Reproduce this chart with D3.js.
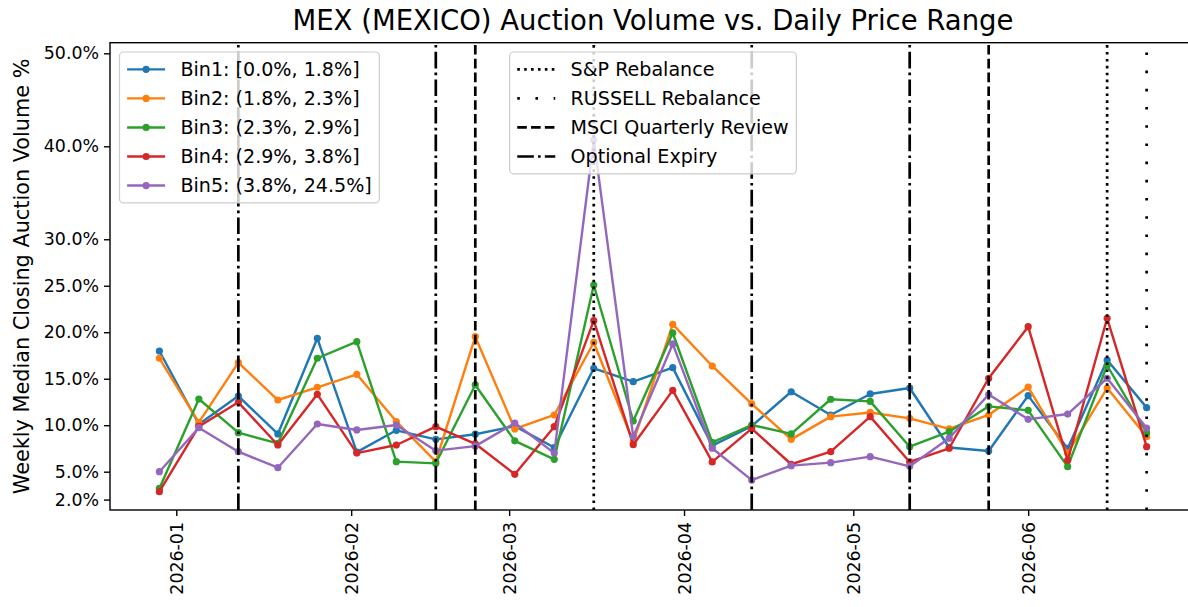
<!DOCTYPE html>
<html><head><meta charset="utf-8">
<script src="https://cdn.jsdelivr.net/npm/d3@7"></script>
<style>body{margin:0;background:#fff;} text{font-family:"DejaVu Sans",sans-serif;fill:#000;}</style>
</head><body><svg id="chart" width="1188" height="607"></svg>
<script>
const weeks = ["2025-12-29","2026-01-05","2026-01-12","2026-01-19","2026-01-26","2026-02-02","2026-02-09","2026-02-16","2026-02-23","2026-03-02","2026-03-09","2026-03-16","2026-03-23","2026-03-30","2026-04-06","2026-04-13","2026-04-20","2026-04-27","2026-05-04","2026-05-11","2026-05-18","2026-05-25","2026-06-01","2026-06-08","2026-06-15","2026-06-22"];
const binNames = ["Bin1: [0.0%, 1.8%]","Bin2: (1.8%, 2.3%]","Bin3: (2.3%, 2.9%]","Bin4: (2.9%, 3.8%]","Bin5: (3.8%, 24.5%]"];
const bin1 = [17.98,10.1,13.14,9.06,19.35,7.1,9.45,8.48,9.03,9.9,7.6,16.12,14.68,16.19,7.8,9.9,13.6,11.1,13.36,14.0,7.6,7.23,13.18,7.5,17.01,11.89];
const bin2 = [17.2,10.3,16.73,12.71,14.08,15.47,10.4,6.08,19.52,9.6,11.1,18.9,8.2,20.85,16.37,12.3,8.48,10.92,11.37,10.74,9.6,11.1,14.1,7.0,14.0,8.77];
const bin3 = [3.2,12.82,9.2,8.05,17.2,18.98,6.08,5.9,14.33,8.32,6.33,25.08,10.45,19.92,8.16,10.02,9.06,12.79,12.56,7.69,9.3,12.03,11.6,5.54,16.42,9.2];
const bin4 = [2.85,9.87,12.46,7.87,13.32,7.0,7.87,9.84,8.0,4.72,9.84,21.24,7.9,13.75,6.05,9.63,5.8,7.15,10.92,6.05,7.52,15.05,20.6,6.22,21.5,7.69];
const bin5 = [5.0,9.73,7.15,5.43,10.13,9.49,10.02,7.26,7.75,10.23,7.0,40.7,8.77,18.74,7.52,4.1,5.65,5.97,6.62,5.58,8.6,13.3,10.63,11.2,15.05,9.7];
const binColors = ["#1f77b4","#ff7f0e","#2ca02c","#d62728","#9467bd"];
const spDates = ["2026-03-16","2026-06-15"];
const russellDates = ["2026-06-22"];
const msciDates = ["2026-02-23","2026-05-25"];
const expiryDates = ["2026-01-12","2026-02-16","2026-04-13","2026-05-11"];
const eventNames = ["S&P Rebalance","RUSSELL Rebalance","MSCI Quarterly Review","Optional Expiry"];
const yTicks = [2,5,10,15,20,25,30,40,50];
const xTicks = ["2026-01-01","2026-02-01","2026-03-01","2026-04-01","2026-05-01","2026-06-01"];
const title = "MEX (MEXICO) Auction Volume vs. Daily Price Range";
const yLabel = "Weekly Median Closing Auction Volume %";

const parse = d3.utcParse("%Y-%m-%d");
const dates = weeks.map(parse);
const series = [bin1,bin2,bin3,bin4,bin5];

const L = 110, R = 1196, T = 42.7, B = 510;
const svg = d3.select("#chart");
svg.append("rect").attr("width",1188).attr("height",607).attr("fill","#fff");

const pad = (dates[dates.length-1] - dates[0]) * 0.05;
const x = d3.scaleUtc().domain([new Date(+dates[0]-pad), new Date(+dates[dates.length-1]+pad)]).range([L,R]);
const y = d3.scaleLinear().domain([0.88,51.14]).range([B,T]);

svg.append("defs").append("clipPath").attr("id","clip").append("rect")
  .attr("x",L).attr("y",T).attr("width",R-L).attr("height",B-T);

const plot = svg.append("g").attr("clip-path","url(#clip)");
const line = d3.line().x((d,i)=>x(dates[i])).y(d=>y(d));
series.forEach((s,si)=>{
  plot.append("path").datum(s).attr("d",line).attr("fill","none")
    .attr("stroke",binColors[si]).attr("stroke-width",2.4).attr("stroke-linejoin","round");
  plot.selectAll(null).data(s).enter().append("circle")
    .attr("cx",(d,i)=>x(dates[i])).attr("cy",d=>y(d)).attr("r",3.6).attr("fill",binColors[si]);
});

const eventStyles = [
  {dates: spDates, dash: "2.6,4.3"},
  {dates: russellDates, dash: "2.6,15.6"},
  {dates: msciDates, dash: "9.6,4.2"},
  {dates: expiryDates, dash: "16.6,4.2,2.6,4.2"}
];
eventStyles.forEach(ev=>{
  ev.dates.forEach(ds=>{
    const xv = x(parse(ds));
    plot.append("line").attr("x1",xv).attr("x2",xv).attr("y1",B).attr("y2",T)
      .attr("stroke","#000").attr("stroke-width",2.7).attr("stroke-dasharray",ev.dash);
  });
});

// axes
const yAxis = svg.append("g").attr("transform",`translate(${L},0)`)
  .call(d3.axisLeft(y).tickValues(yTicks).tickSize(6).tickPadding(5).tickFormat(d=>d3.format(".1f")(d)+"%"));
yAxis.select(".domain").remove();
yAxis.selectAll("line").attr("stroke","#000").attr("stroke-width",1.4);
yAxis.selectAll("text").attr("font-size","17.4px").attr("fill","#000");

const xAxis = svg.append("g").attr("transform",`translate(0,${B})`)
  .call(d3.axisBottom(x).tickValues(xTicks.map(parse)).tickSize(6).tickFormat(d3.utcFormat("%Y-%m")));
xAxis.select(".domain").remove();
xAxis.selectAll("line").attr("stroke","#000").attr("stroke-width",1.4);
xAxis.selectAll("text").attr("font-size","17.4px").attr("fill","#000")
  .attr("transform","rotate(-90)").attr("x",-12).attr("y",0).attr("dy","0.35em").attr("text-anchor","end");

svg.append("rect").attr("x",L).attr("y",T).attr("width",R-L).attr("height",B-T)
  .attr("fill","none").attr("stroke","#000").attr("stroke-width",1.4);

svg.append("text").attr("x",(L+R)/2).attr("y",30).attr("text-anchor","middle")
  .attr("font-size","27.5px").text(title);
svg.append("text").attr("transform",`translate(29,${(T+B)/2}) rotate(-90)`).attr("text-anchor","middle")
  .attr("font-size","20.8px").text(yLabel);

// legends
const F = 19.1, rowH = 29.05;
function legend(items, anchor){
  const g = svg.append("g");
  const box = g.append("rect").attr("rx",4).attr("ry",4).attr("fill","#fff").attr("fill-opacity",0.8)
    .attr("stroke","#cccccc").attr("stroke-width",1.2);
  const rows = g.append("g");
  let maxW = 0;
  items.forEach((it,i)=>{
    const cy = 52 + 7.6 + 9.75 + i*rowH;
    const r = rows.append("g");
    const hx0 = 7.6, hx1 = 7.6 + 38;
    r.append("line").attr("x1",hx0).attr("x2",hx1).attr("y1",cy).attr("y2",cy)
      .attr("stroke",it.color).attr("stroke-width",it.marker?2.4:2.7).attr("stroke-dasharray",it.dash||null);
    if(it.marker) r.append("circle").attr("cx",(hx0+hx1)/2).attr("cy",cy).attr("r",3.6).attr("fill",it.color);
    const t = r.append("text").attr("x",hx1+15.3).attr("y",cy).attr("dy","0.36em").attr("font-size",F+"px").text(it.label);
    maxW = Math.max(maxW, t.node().getComputedTextLength());
  });
  const w = 7.6 + 38 + 15.3 + maxW + 7.6;
  const h = 7.6*2 + items.length*19.5 + (items.length-1)*9.55;
  const left = anchor === "left" ? L + 9.5 : (L+R)/2 - w/2;
  box.attr("x",left).attr("y",52).attr("width",w).attr("height",h);
  rows.attr("transform",`translate(${left},0)`);
}
legend(binNames.map((n,i)=>({label:n,color:binColors[i],marker:true})),"left");
legend(eventNames.map((n,i)=>({label:n,color:"#000",dash:eventStyles[i].dash})),"center");
</script></body></html>
